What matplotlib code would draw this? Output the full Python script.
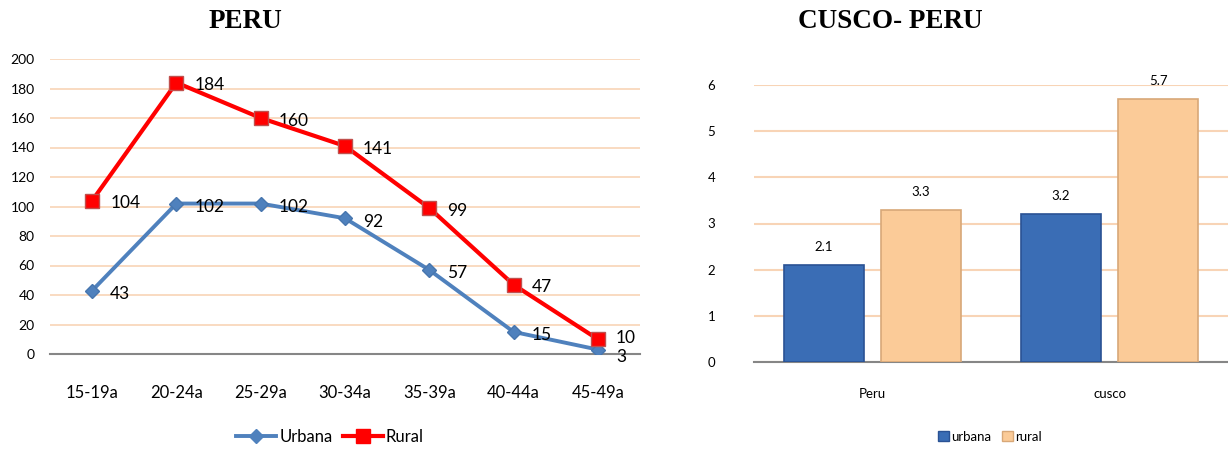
"""
Tasa de fecundidad: Peru / Cusco
"""

import numpy as np
import matplotlib.pyplot as plt
from matplotlib.lines import Line2D
from matplotlib.patches import Patch

plt.rcParams["font.family"] = ["Lato", "DejaVu Sans"]

# Left chart: age groups
edades = ["15-19a", "20-24a", "25-29a", "30-34a", "35-39a", "40-44a", "45-49a"]
urbana = [43, 102, 102, 92, 57, 15, 3]
rural = [104, 184, 160, 141, 99, 47, 10]

# Right chart
lugares = ["Peru", "cusco"]
bar_urbana = [2.1, 3.2]
bar_rural = [3.3, 5.7]

GRID = "#F8D4B6"

fig = plt.figure(figsize=(12.28, 4.51), dpi=100)

# ---- left: line chart
ax1 = fig.add_axes([50 / 1228, 1 - 354 / 451, (640 - 50) / 1228, 295 / 451])
x = np.arange(len(edades))
ax1.plot(x, urbana, color="#4F81BD", lw=2.8, marker="D", ms=7.5,
         mfc="#4F81BD", mec="#4776AE", zorder=3)
ax1.plot(x, rural, color="#FF0000", lw=3.0, marker="s", ms=9.5,
         mfc="#FF0000", mec="#C0504D", zorder=4)
for i in range(len(edades)):
    # last pair of labels sits very close together, nudge them apart a little
    dy_u = -5 if i == len(edades) - 1 else -2.5
    dy_r = 1 if i == len(edades) - 1 else -2
    ax1.annotate(str(urbana[i]), (x[i], urbana[i]), xytext=(13, dy_u),
                 textcoords="offset points", va="center", ha="left", fontsize=12.5)
    ax1.annotate(str(rural[i]), (x[i], rural[i]), xytext=(13, dy_r),
                 textcoords="offset points", va="center", ha="left", fontsize=12.5)
ax1.set_xlim(-0.5, 6.5)
ax1.set_ylim(0, 200)
ax1.set_yticks(range(0, 201, 20))
ax1.set_xticks(x)
ax1.set_xticklabels(edades, fontsize=12)
ax1.tick_params(axis="x", length=0, pad=22)
ax1.tick_params(axis="y", length=0, labelsize=10, pad=11)
ax1.grid(axis="y", color=GRID, lw=1.2)
ax1.set_axisbelow(True)
for s in ["top", "right", "left"]:
    ax1.spines[s].set_visible(False)
ax1.spines["bottom"].set_color("#868686")
ax1.spines["bottom"].set_linewidth(1.5)
ax1.set_zorder(2)

handles = [Line2D([], [], color="#4F81BD", lw=2.8, marker="D", ms=7.5),
           Line2D([], [], color="#FF0000", lw=3.0, marker="s", ms=9.5)]
fig.legend(handles, ["Urbana", "Rural"], loc="center", bbox_to_anchor=(330 / 1228, 1 - 437 / 451),
           ncol=2, frameon=False, fontsize=12, handlelength=2.4, columnspacing=0.6,
           handletextpad=0.2)

fig.text(245 / 1228, 1 - 21 / 451, "PERU", ha="center", va="center",
         fontsize=19.5, fontweight="bold", family="Liberation Serif")

# ---- right: bar chart
ax2 = fig.add_axes([754 / 1228, 1 - 362 / 451, (1228 - 754) / 1228, 277 / 451])
xb = np.arange(len(lugares))
w = 0.34
b1 = ax2.bar(xb - 0.205, bar_urbana, w, color="#3A6DB5", edgecolor="#2A5294", lw=1.2, zorder=3)
b2 = ax2.bar(xb + 0.205, bar_rural, w, color="#FBCB98", edgecolor="#D8A878", lw=1.2, zorder=3)
for rect, v in list(zip(b1, bar_urbana)) + list(zip(b2, bar_rural)):
    ax2.annotate(f"{v:.1f}", (rect.get_x() + rect.get_width() / 2, v), xytext=(0, 13),
                 textcoords="offset points", ha="center", va="center", fontsize=9.5)
ax2.set_xlim(-0.5, 1.5)
ax2.set_ylim(0, 6)
ax2.set_xticks(xb)
ax2.set_xticklabels(lugares, fontsize=9.5)
ax2.tick_params(axis="x", length=0, pad=19)
ax2.tick_params(axis="y", length=0, labelsize=9.5, pad=28)
ax2.grid(axis="y", color=GRID, lw=1.5)
ax2.set_axisbelow(True)
for s in ["top", "right", "left"]:
    ax2.spines[s].set_visible(False)
ax2.spines["bottom"].set_color("#868686")
ax2.spines["bottom"].set_linewidth(1.5)

handles2 = [Patch(facecolor="#3A6DB5", edgecolor="#2A5294"),
            Patch(facecolor="#FBCB98", edgecolor="#D8A878")]
fig.legend(handles2, ["urbana", "rural"], loc="center", bbox_to_anchor=(990 / 1228, 1 - 437 / 451),
           ncol=2, frameon=False, fontsize=9.5, handlelength=0.8, handleheight=0.8,
           columnspacing=0.8, handletextpad=0.2)

fig.text(890 / 1228, 1 - 21 / 451, "CUSCO- PERU", ha="center", va="center",
         fontsize=19.5, fontweight="bold", family="Liberation Serif")

plt.savefig("out.png", dpi=100)
